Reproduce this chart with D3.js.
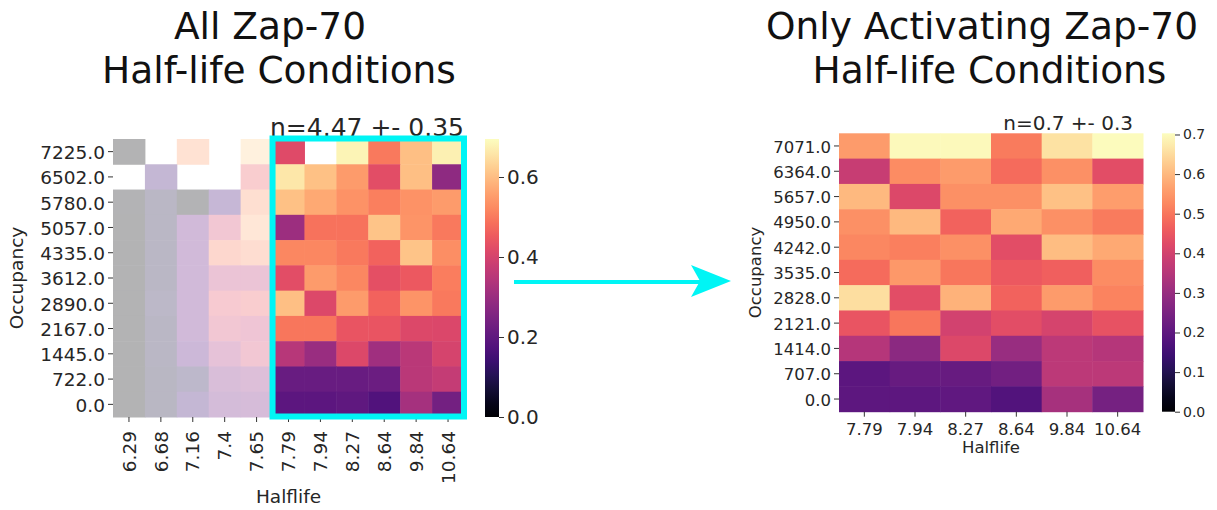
<!DOCTYPE html>
<html>
<head>
<meta charset="utf-8">
<script src="https://cdn.jsdelivr.net/npm/d3@7"></script>
<style>
  body { margin: 0; background: #fff; }
  text { font-family: "DejaVu Sans", sans-serif; fill: #262626; }
</style>
</head>
<body>
<div id="chart-area"></div>
<script>
// ---- data: left heatmap (all half-life conditions) ----
var leftHalflife = ["6.29", "6.68", "7.16", "7.4", "7.65", "7.79", "7.94", "8.27", "8.64", "9.84", "10.64"];
var leftOccupancy = ["7225.0", "6502.0", "5780.0", "5057.0", "4335.0", "3612.0", "2890.0", "2167.0", "1445.0", "722.0", "0.0"];
// rows top -> bottom, null = no value
var leftValues = [
	[0.00, null, 0.555, null, 0.625, 0.42, null, 0.68, 0.50, 0.60, 0.675],
	[null, 0.14, null, null, 0.45, 0.66, 0.605, 0.55, 0.425, 0.60, 0.28],
	[0.01, 0.08, 0.01, 0.15, 0.54, 0.605, 0.57, 0.535, 0.51, 0.535, 0.55],
	[0.00, 0.08, 0.21, 0.40, 0.58, 0.305, 0.49, 0.49, 0.61, 0.54, 0.50],
	[0.00, 0.08, 0.21, 0.50, 0.53, 0.52, 0.52, 0.50, 0.465, 0.61, 0.53],
	[0.00, 0.08, 0.21, 0.36, 0.36, 0.425, 0.55, 0.52, 0.43, 0.45, 0.505],
	[0.00, 0.09, 0.21, 0.43, 0.45, 0.60, 0.415, 0.55, 0.465, 0.54, 0.50],
	[0.00, 0.08, 0.21, 0.40, 0.38, 0.495, 0.495, 0.44, 0.44, 0.415, 0.41],
	[0.00, 0.08, 0.18, 0.33, 0.40, 0.35, 0.30, 0.415, 0.31, 0.355, 0.40],
	[0.00, 0.07, 0.10, 0.26, 0.28, 0.215, 0.215, 0.215, 0.22, 0.355, 0.37],
	[0.00, 0.07, 0.14, 0.23, 0.24, 0.195, 0.195, 0.20, 0.175, 0.32, 0.235]
];
var leftTicks = [0.0, 0.2, 0.4, 0.6];
var leftMax = 0.695;
var activeFrom = "7.79"; // first activating half-life

// ---- data: right heatmap (only activating) ----
var rightHalflife = ["7.79", "7.94", "8.27", "8.64", "9.84", "10.64"];
var rightOccupancy = ["7071.0", "6364.0", "5657.0", "4950.0", "4242.0", "3535.0", "2828.0", "2121.0", "1414.0", "707.0", "0.0"];
var rightValues = [
	[0.555, 0.695, 0.695, 0.51, 0.66, 0.70],
	[0.38, 0.535, 0.555, 0.485, 0.54, 0.43],
	[0.60, 0.42, 0.54, 0.54, 0.61, 0.56],
	[0.54, 0.60, 0.47, 0.575, 0.54, 0.51],
	[0.525, 0.515, 0.54, 0.43, 0.605, 0.575],
	[0.485, 0.55, 0.50, 0.455, 0.465, 0.535],
	[0.655, 0.43, 0.59, 0.47, 0.555, 0.52],
	[0.445, 0.50, 0.40, 0.43, 0.405, 0.44],
	[0.35, 0.28, 0.42, 0.30, 0.36, 0.35],
	[0.195, 0.215, 0.215, 0.235, 0.36, 0.36],
	[0.20, 0.20, 0.205, 0.18, 0.325, 0.24]
];
var rightTicks = [0.0, 0.1, 0.2, 0.3, 0.4, 0.5, 0.6, 0.7];
var rightMax = 0.703;

var svg = d3.select("#chart-area")
	.append("svg")
		.attr("width", 1217)
		.attr("height", 510);

// titles
function title(lines, cx) {
	lines.forEach(function(l, i) {
		svg.append("text")
			.attr("x", cx[i])
			.attr("y", 39 + i * 44)
			.attr("text-anchor", "middle")
			.attr("font-size", "37.5px")
			.style("fill", "#111")
			.text(l);
	});
}
title(["All Zap-70", "Half-life Conditions"], [270, 279]);
title(["Only Activating Zap-70", "Half-life Conditions"], [982, 989.5]);

function heatmap(opt) {
	var g = svg.append("g")
		.attr("transform", "translate(" + opt.left + "," + opt.top + ")");

	var x = d3.scaleBand().domain(opt.cols).range([0, opt.width]);
	var y = d3.scaleBand().domain(opt.rows).range([0, opt.height]);
	var color = d3.scaleSequential(d3.interpolateMagma).domain([0, opt.vmax]);

	var cells = [];
	opt.values.forEach(function(row, i) {
		row.forEach(function(v, j) {
			if (v !== null) cells.push({r: opt.rows[i], c: opt.cols[j], v: v, j: j});
		});
	});

	g.selectAll("rect.cell")
		.data(cells)
		.enter().append("rect")
			.attr("class", "cell")
			.attr("x", function(d) { return x(d.c); })
			.attr("y", function(d) { return y(d.r); })
			.attr("width", x.bandwidth() + 0.5)
			.attr("height", y.bandwidth() + 0.5)
			.attr("fill", function(d) {
				// non-activating columns are washed out (30% over white)
				if (opt.fadeBefore !== undefined && d.j < opt.fadeBefore) {
					return d3.interpolateRgb("#fff", color(d.v))(0.3);
				}
				return color(d.v);
			});

	// axes
	var yAxis = g.append("g").call(d3.axisLeft(y).tickSize(5).tickPadding(3));
	yAxis.select(".domain").remove();
	yAxis.selectAll("line").attr("stroke", "#333");
	yAxis.selectAll("text")
		.attr("font-size", opt.fs + "px")
		.attr("dy", "0.4em");

	var xAxis = g.append("g")
		.attr("transform", "translate(0," + opt.height + ")")
		.call(d3.axisBottom(x).tickSize(5).tickPadding(3));
	xAxis.select(".domain").remove();
	xAxis.selectAll("line").attr("stroke", "#333");
	var xt = xAxis.selectAll("text").attr("font-size", opt.fs + "px");
	if (opt.rotate) {
		xt.attr("transform", "rotate(-90)")
			.attr("text-anchor", "end")
			.attr("x", -14)
			.attr("y", 0)
			.attr("dy", "0.36em");
	} else {
		xt.attr("dy", "0.95em");
	}

	// axis titles
	g.append("text")
		.attr("text-anchor", "middle")
		.attr("x", opt.width / 2)
		.attr("y", opt.height + opt.xTitleDy)
		.attr("font-size", opt.fs + "px")
		.text("Halflife");
	g.append("text")
		.attr("text-anchor", "middle")
		.attr("transform", "translate(" + opt.yTitleX + "," + opt.height / 2 + ") rotate(-90)")
		.attr("font-size", opt.fs + "px")
		.text("Occupancy");

	// n label
	g.append("text")
		.attr("text-anchor", "end")
		.attr("x", opt.nX)
		.attr("y", opt.nY)
		.attr("font-size", opt.nFs + "px")
		.text(opt.nText);

	// colorbar
	var gid = "grad" + opt.left;
	var grad = svg.append("defs").append("linearGradient")
		.attr("id", gid)
		.attr("x1", 0).attr("y1", 1).attr("x2", 0).attr("y2", 0);
	d3.range(0, 1.001, 0.05).forEach(function(t) {
		grad.append("stop")
			.attr("offset", t)
			.attr("stop-color", d3.interpolateMagma(t));
	});
	var cb = svg.append("g")
		.attr("transform", "translate(" + opt.cbX + "," + opt.top + ")");
	cb.append("rect")
		.attr("width", opt.cbW)
		.attr("height", opt.height)
		.attr("fill", "url(#" + gid + ")");
	var cy = d3.scaleLinear().domain([0, opt.vmax]).range([opt.height, 0]);
	var cAxis = cb.append("g")
		.attr("transform", "translate(" + opt.cbW + ",0)")
		.call(d3.axisRight(cy).tickValues(opt.cbTicks).tickFormat(d3.format(".1f")).tickSize(5).tickPadding(3));
	cAxis.select(".domain").remove();
	cAxis.selectAll("line").attr("stroke", "#333");
	cAxis.selectAll("text").attr("font-size", opt.cbFs + "px");

	return {x: x, y: y, g: g};
}

var left = heatmap({
	left: 113, top: 139, width: 351, height: 278,
	cols: leftHalflife, rows: leftOccupancy, values: leftValues,
	vmax: leftMax, fadeBefore: leftHalflife.indexOf(activeFrom),
	fs: 18.5, rotate: true, xTitleDy: 86, yTitleX: -90,
	nText: "n=4.47 +- 0.35", nX: 351, nY: -3, nFs: 25,
	cbX: 485, cbW: 14, cbTicks: leftTicks, cbFs: 20
});

var right = heatmap({
	left: 839, top: 133.3, width: 304, height: 278.4,
	cols: rightHalflife, rows: rightOccupancy, values: rightValues,
	vmax: rightMax,
	fs: 16.5, rotate: false, xTitleDy: 41.5, yTitleX: -78,
	nText: "n=0.7 +- 0.3", nX: 294, nY: -3, nFs: 20,
	cbX: 1162, cbW: 13, cbTicks: rightTicks, cbFs: 14
});

// cyan box around the activating half-lives
var x0 = left.x(activeFrom);
left.g.append("rect")
	.attr("x", x0)
	.attr("y", -0.5)
	.attr("width", 351 - x0)
	.attr("height", 278)
	.attr("fill", "none")
	.attr("stroke", "#00f5f5")
	.attr("stroke-width", 6);

// arrow between the two panels
svg.append("line")
	.attr("x1", 514).attr("y1", 282)
	.attr("x2", 702).attr("y2", 282)
	.attr("stroke", "#00f5f5")
	.attr("stroke-width", 4);
svg.append("path")
	.attr("d", "M731,281 L691,265 L700,281 L691,297 Z")
	.attr("fill", "#00f5f5");
</script>
</body>
</html>
